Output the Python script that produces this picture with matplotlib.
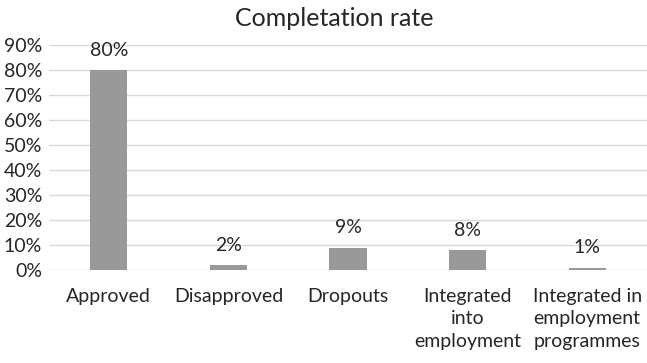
import matplotlib
matplotlib.use("Agg")
import matplotlib.pyplot as plt
from matplotlib.ticker import FuncFormatter

# Datos del grafico
categorias = ["Approved", "Disapproved", "Dropouts",
              "Integrated\ninto\nemployment", "Integrated in\nemployment\nprogrammes"]
valores = [0.80, 0.02, 0.09, 0.08, 0.01]
etiquetas = ["80%", "2%", "9%", "8%", "1%"]
y_ticks = [0.0, 0.1, 0.2, 0.3, 0.4, 0.5, 0.6, 0.7, 0.8, 0.9]

plt.rcParams['font.family'] = ['Lato', 'DejaVu Sans']

fig = plt.figure(figsize=(6.47, 3.63), dpi=100)
ax = fig.add_axes([0.0757, 0.256, 0.9243, 0.62])

xs = list(range(len(categorias)))
ax.bar(xs, valores, width=0.31, color='#999999', zorder=3)

# Etiquetas de valor sobre cada barra
for x, v, t in zip(xs, valores, etiquetas):
    ax.annotate(t, (x, v), xytext=(0, 8), textcoords='offset points',
                ha='center', va='bottom', fontsize=14, color='#262626')

ax.set_xlim(-0.5, len(categorias) - 0.5)
ax.set_ylim(0, 0.9)
ax.set_yticks(y_ticks)
ax.yaxis.set_major_formatter(FuncFormatter(lambda v, p: "%d%%" % round(v * 100)))
ax.set_xticks(xs)
ax.set_xticklabels(categorias, linespacing=1.38)

ax.grid(axis='y', color='#d9d9d9', linewidth=1, zorder=0)
for s in ax.spines.values():
    s.set_visible(False)
ax.tick_params(axis='both', length=0, labelsize=14, labelcolor='#262626')
ax.tick_params(axis='x', pad=13)
ax.tick_params(axis='y', pad=5)

fig.text(334 / 647, 1 - 18 / 363, "Completation rate", ha='center', va='center',
         fontsize=18, color='#262626')

fig.savefig("out.png", dpi=100)
